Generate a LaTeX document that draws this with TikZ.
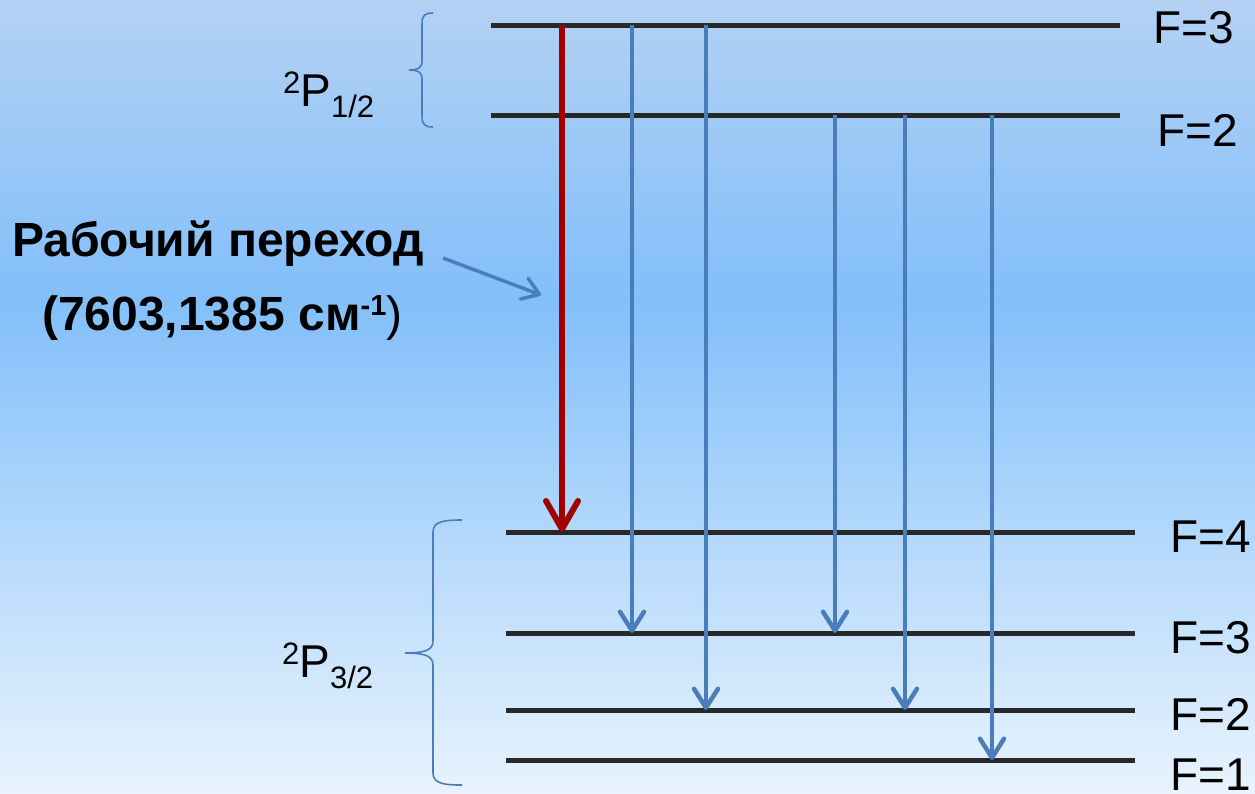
\documentclass[tikz,border=0pt]{standalone}
\usepackage{fontspec}
\setmainfont{Liberation Sans}
\usetikzlibrary{arrows.meta}
\definecolor{bgtop}{RGB}{180,209,243}
\definecolor{bgmid}{RGB}{130,191,250}
\definecolor{bgbot}{RGB}{232,243,253}
\definecolor{levelc}{RGB}{40,40,40}
\definecolor{bluec}{RGB}{74,126,187}
\definecolor{redc}{RGB}{160,0,0}
\tikzset{
  level/.style={line width=5pt, draw=levelc},
  bluearrow/.style={line width=4.5pt, draw=bluec, -{Straight Barb[length=19pt,width=24pt,round]}},
  redarrow/.style={line width=6pt, draw=redc, -{Straight Barb[length=28pt,width=32pt,round]}},
  ptrarrow/.style={line width=3.5pt, draw=bluec, -{Straight Barb[length=16pt,width=22pt,round]}},
  bracec/.style={line width=1.6pt, draw=bluec},
  flabel/.style={anchor=base west, inner sep=0pt, font=\fontsize{46}{50}\selectfont},
  rutext/.style={anchor=base west, inner sep=0pt, font=\fontsize{48}{52}\selectfont\bfseries},
}
\newcommand{\smallsz}{\fontsize{31}{33}\selectfont}
\begin{document}
\begin{tikzpicture}[x=1pt,y=-1pt]
\useasboundingbox (0,0) rectangle (1255,793);
\shade[top color=bgtop, bottom color=bgmid] (0,0) rectangle (1255,300);
\shade[top color=bgmid, bottom color=bgbot] (0,299.5) rectangle (1255,793);

% upper levels
\coordinate (u3a) at (491,25);  \coordinate (u3b) at (1120,25);
\coordinate (u2a) at (491,115); \coordinate (u2b) at (1120,115);
% lower levels
\coordinate (l4a) at (506,532); \coordinate (l4b) at (1135,532);
\coordinate (l3a) at (506,633); \coordinate (l3b) at (1135,633);
\coordinate (l2a) at (506,710); \coordinate (l2b) at (1135,710);
\coordinate (l1a) at (506,760); \coordinate (l1b) at (1135,760);

\draw[level] (u3a) -- (u3b);
\draw[level] (u2a) -- (u2b);
\draw[level] (l4a) -- (l4b);
\draw[level] (l3a) -- (l3b);
\draw[level] (l2a) -- (l2b);
\draw[level] (l1a) -- (l1b);

% level labels
\node[flabel] (fu3) at (1153,43) {F=3};
\node[flabel] (fu2) at (1157,146) {F=2};
\node[flabel] (fl4) at (1170,552) {F=4};
\node[flabel] (fl3) at (1170,653) {F=3};
\node[flabel] (fl2) at (1170,730) {F=2};
\node[flabel] (fl1) at (1170,790) {F=1};

% transition columns
\coordinate (xr) at (562,0);
\coordinate (x1) at (632,0);
\coordinate (x2) at (706,0);
\coordinate (x3) at (835,0);
\coordinate (x4) at (905,0);
\coordinate (x5) at (992,0);

\draw[bluearrow] (x1 |- u3a) -- (x1 |- l3a);
\draw[bluearrow] (x2 |- u3a) -- (x2 |- l2a);
\draw[bluearrow] (x3 |- u2a) -- (x3 |- l3a);
\draw[bluearrow] (x4 |- u2a) -- (x4 |- l2a);
\draw[bluearrow] (x5 |- u2a) -- (x5 |- l1a);
\draw[redarrow] (xr |- u3a) -- (xr |- l4a);

% braces
\draw[bracec] (433,13) .. controls (425,13) and (422,15) .. (422,24) -- (422,61)
  .. controls (422,68) and (418,70) .. (409,70)
  .. controls (418,70) and (422,72) .. (422,79) -- (422,116)
  .. controls (422,125) and (425,127) .. (433,127);
\draw[bracec] (462,520) .. controls (445,520) and (433,521) .. (433,532) -- (433,641)
  .. controls (433,650) and (425,653) .. (405,653)
  .. controls (425,653) and (433,656) .. (433,665) -- (433,773)
  .. controls (433,784) and (445,785) .. (462,785);

% term labels
\node[flabel] (p12) at (283,106) {\raisebox{13pt}{\smallsz 2}P\raisebox{-11pt}{\smallsz 1/2}};
\node[flabel] (p32) at (282,677) {\raisebox{13pt}{\smallsz 2}P\raisebox{-11pt}{\smallsz 3/2}};

% working transition label
\node[rutext] (ru1) at (12,256) {Рабочий переход};
\node[rutext] (ru2) at (42,330) {(7603,1385 см\raisebox{15pt}{\fontsize{29}{31}\selectfont -1}\mdseries)};
\coordinate (ptr) at (541,295);
\draw[ptrarrow] (443,258) -- (ptr);
\end{tikzpicture}
\end{document}
